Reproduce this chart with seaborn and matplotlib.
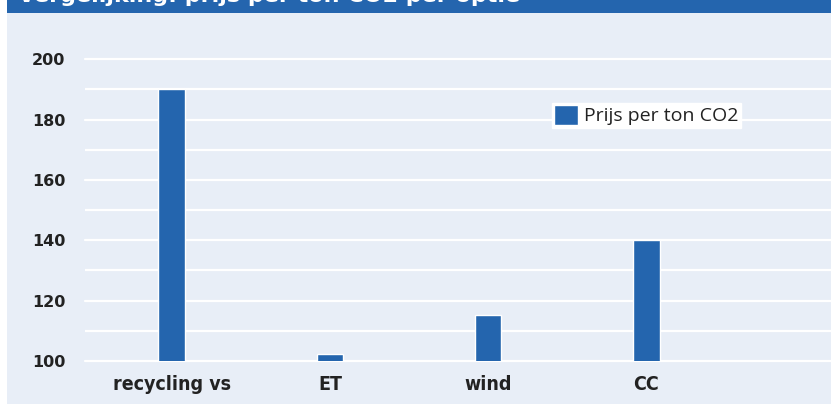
import pandas as pd
import matplotlib.pyplot as plt
import seaborn as sns
from matplotlib.patches import Rectangle
from matplotlib.ticker import MultipleLocator

# ------------------------------------------------------------------
# Data
# ------------------------------------------------------------------
categories = ["recycling vs", "ET", "wind", "CC"]
prices = [190, 102.3, 115.3, 140]
series_name = "Prijs per ton CO2"
title_text = "Vergelijking: prijs per ton CO2 per optie"

BG = "#E8EEF7"
BLUE = "#2465AE"

df = pd.DataFrame({"optie": categories, "prijs": prices, "reeks": [series_name] * len(categories)})

sns.set_theme(style="white")
plt.rcParams["font.family"] = ["DejaVu Sans"]

fig = plt.figure(figsize=(8.31, 4.04), dpi=100)
fig.patch.set_facecolor(BG)

W, H = 831, 404
ax = fig.add_axes([85 / W, (H - 361) / H, 1 - 85 / W, 323 / H])
ax.set_facecolor(BG)

sns.barplot(data=df, x="optie", y="prijs", hue="reeks", palette=[BLUE],
            width=0.17, dodge=False, ax=ax, saturation=1, zorder=3)

ax.set_ylim(100, 207)
ax.set_xlim(-0.55, 4.17)
ax.yaxis.set_major_locator(MultipleLocator(20))
ax.yaxis.set_minor_locator(MultipleLocator(10))
ax.grid(True, which="both", axis="y", color="white", linewidth=1.6, zorder=1)
for gl in ax.yaxis.get_gridlines():
    gl.set_clip_on(False)
for sp in ax.spines.values():
    sp.set_visible(False)
ax.set_axisbelow(True)
ax.set_xlabel("")
ax.set_ylabel("")
ax.tick_params(axis="both", which="both", length=0)
ax.tick_params(axis="y", pad=14)
ax.tick_params(axis="x", pad=10)

for lab in ax.get_yticklabels():
    lab.set_fontweight("bold")
    lab.set_fontsize(11.5)
    lab.set_color("#222222")
for lab in ax.get_xticklabels():
    lab.set_family(["DejaVu Sans"])
    lab.set_stretch("condensed")
    lab.set_fontweight("bold")
    lab.set_fontsize(14)
    lab.set_color("#222222")

ax.get_legend().remove()
leg = ax.legend(loc="upper left", bbox_to_anchor=(0.626, 0.80), frameon=True,
                fancybox=False, framealpha=1, edgecolor="white", facecolor="white",
                handlelength=1.2, handleheight=1.2, handletextpad=0.35,
                borderpad=0.12, borderaxespad=0,
                prop={"family": ["Open Sans", "DejaVu Sans"], "size": 14})
for t in leg.get_texts():
    t.set_color("#222222")

# white left strip and blue title band (title text runs off the top edge)
fig.patches.append(Rectangle((0, 0), 7 / W, 1, transform=fig.transFigure,
                             facecolor="white", edgecolor="none", zorder=5))
fig.patches.append(Rectangle((7 / W, 1 - 13 / H), 1, 13 / H, transform=fig.transFigure,
                             facecolor=BLUE, edgecolor="none", zorder=5))
fig.text(18 / W, 1 - 2 / H, title_text, color="white", fontweight="bold",
         fontsize=16, va="baseline", ha="left", zorder=6)

fig.savefig("out.png", dpi=100, facecolor=BG)
